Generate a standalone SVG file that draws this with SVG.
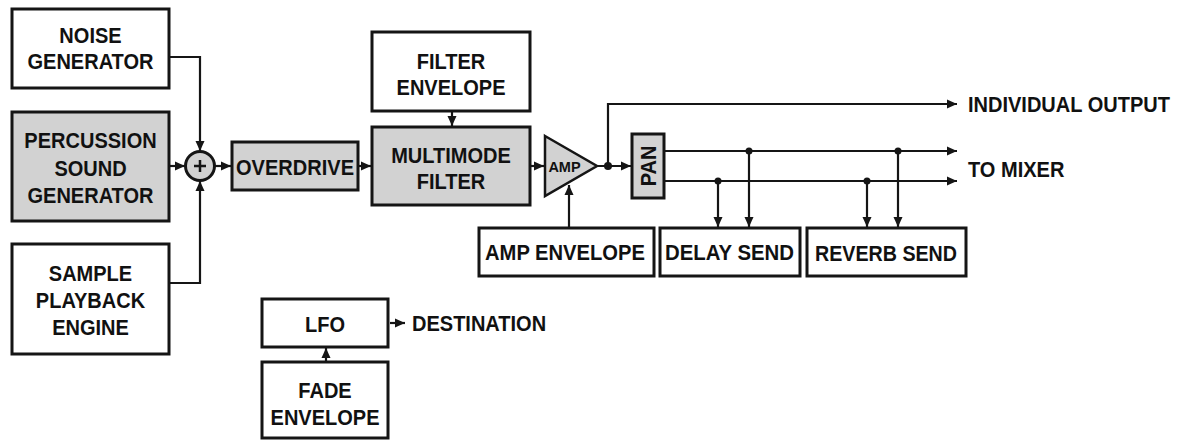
<svg xmlns="http://www.w3.org/2000/svg" width="1179" height="448" viewBox="0 0 1179 448">
<style>
.box{fill:#fff;stroke:#151515;stroke-width:3}
.g{fill:#d2d2d2}
.t{font-family:"Liberation Sans",Arial,sans-serif;font-weight:bold;font-size:22px;fill:#111;text-anchor:middle}
.tl{text-anchor:start}
.ln{fill:none;stroke:#151515;stroke-width:2.2}
</style>
<defs>
<marker id="ah" viewBox="0 0 10 10" refX="10" refY="5" markerWidth="10" markerHeight="10" markerUnits="userSpaceOnUse" orient="auto">
<path d="M0,0.5 L10,5 L0,9.5 Z" fill="#151515"/>
</marker>
</defs>
<rect width="1179" height="448" fill="#fff"/>
<g id="noise"><rect class="box" x="12" y="9" width="157" height="79"/><text class="t" transform="translate(90.5,43) scale(0.91,1)">NOISE</text><text class="t" transform="translate(90.5,69) scale(0.91,1)">GENERATOR</text></g>
<g id="percussion"><rect class="box g" x="12" y="112" width="157" height="109"/><text class="t" transform="translate(90.5,148) scale(0.91,1)">PERCUSSION</text><text class="t" transform="translate(90.5,176) scale(0.91,1)">SOUND</text><text class="t" transform="translate(90.5,203) scale(0.91,1)">GENERATOR</text></g>
<g id="sample"><rect class="box" x="12" y="244" width="157" height="110"/><text class="t" transform="translate(90.5,281) scale(0.91,1)">SAMPLE</text><text class="t" transform="translate(90.5,308) scale(0.91,1)">PLAYBACK</text><text class="t" transform="translate(90.5,335) scale(0.91,1)">ENGINE</text></g>
<g id="sum"><circle cx="200" cy="166" r="14.5" fill="#d2d2d2" stroke="#151515" stroke-width="3"/><path d="M194,166 H206 M200,160 V172" stroke="#151515" stroke-width="2.5"/></g>
<g id="overdrive"><rect class="box g" x="232" y="142" width="126" height="48"/><text class="t" x="295" y="175" textLength="118" lengthAdjust="spacingAndGlyphs">OVERDRIVE</text></g>
<g id="filterenv"><rect class="box" x="372" y="32" width="158" height="79"/><text class="t" transform="translate(451,69) scale(0.91,1)">FILTER</text><text class="t" transform="translate(451,95) scale(0.91,1)">ENVELOPE</text></g>
<g id="multimode"><rect class="box g" x="372" y="127" width="158" height="78"/><text class="t" transform="translate(451,163) scale(0.91,1)">MULTIMODE</text><text class="t" transform="translate(451,189) scale(0.91,1)">FILTER</text></g>
<g id="amp"><path d="M545,136 L597,166 L545,196 Z" fill="#d2d2d2" stroke="#151515" stroke-width="2.5" stroke-linejoin="miter"/><text class="t" x="564.5" y="171.5" style="font-size:14.5px">AMP</text></g>
<g id="pan"><rect class="box g" x="632" y="134" width="32" height="64"/><text class="t" transform="translate(656,166) rotate(-90) scale(0.91,1)">PAN</text></g>
<g id="ampenv"><rect class="box" x="479" y="228" width="175" height="48"/><text class="t" x="565" y="260" textLength="160" lengthAdjust="spacingAndGlyphs">AMP ENVELOPE</text></g>
<g id="delay"><rect class="box" x="660" y="228" width="140" height="48"/><text class="t" x="729.5" y="260" textLength="129" lengthAdjust="spacingAndGlyphs">DELAY SEND</text></g>
<g id="reverb"><rect class="box" x="807" y="228" width="159" height="48"/><text class="t" x="886" y="261" textLength="142" lengthAdjust="spacingAndGlyphs">REVERB SEND</text></g>
<g id="lfo"><rect class="box" x="262" y="299" width="126" height="48"/><text class="t" transform="translate(325,332) scale(0.91,1)">LFO</text></g>
<g id="fadeenv"><rect class="box" x="262" y="362" width="126" height="76"/><text class="t" transform="translate(325,398) scale(0.91,1)">FADE</text><text class="t" transform="translate(325,425) scale(0.91,1)">ENVELOPE</text></g>
<g id="labels">
<text class="t tl" transform="translate(968,112) scale(0.91,1)">INDIVIDUAL OUTPUT</text>
<text class="t tl" transform="translate(968,177) scale(0.91,1)">TO MIXER</text>
<text class="t tl" transform="translate(412,331) scale(0.91,1)">DESTINATION</text>
</g>
<g id="connectors">
<path class="ln" d="M169,57 H200 V151" marker-end="url(#ah)"/>
<path class="ln" d="M169,166 H185" marker-end="url(#ah)"/>
<path class="ln" d="M169,283 H200 V181" marker-end="url(#ah)"/>
<path class="ln" d="M214.5,166 H231" marker-end="url(#ah)"/>
<path class="ln" d="M358,166 H371" marker-end="url(#ah)"/>
<path class="ln" d="M452,111 V126" marker-end="url(#ah)"/>
<path class="ln" d="M530,166 H544" marker-end="url(#ah)"/>
<path class="ln" d="M597,166 H631" marker-end="url(#ah)"/>
<path class="ln" d="M608,166 V104 H957" marker-end="url(#ah)"/>
<circle cx="608" cy="166" r="4" fill="#151515"/>
<path class="ln" d="M664,151 H957" marker-end="url(#ah)"/>
<path class="ln" d="M664,181 H957" marker-end="url(#ah)"/>
<path class="ln" d="M749,151 V227" marker-end="url(#ah)"/>
<path class="ln" d="M718,181 V227" marker-end="url(#ah)"/>
<path class="ln" d="M898,151 V227" marker-end="url(#ah)"/>
<path class="ln" d="M867,181 V227" marker-end="url(#ah)"/>
<circle cx="749" cy="151" r="3.5" fill="#151515"/>
<circle cx="718" cy="181" r="3.5" fill="#151515"/>
<circle cx="898" cy="151" r="3.5" fill="#151515"/>
<circle cx="867" cy="181" r="3.5" fill="#151515"/>
<path class="ln" d="M569,228 V185" marker-end="url(#ah)"/>
<path class="ln" d="M326,362 V348" marker-end="url(#ah)"/>
<path class="ln" d="M390,323 H405" marker-end="url(#ah)"/>
</g>
</svg>
